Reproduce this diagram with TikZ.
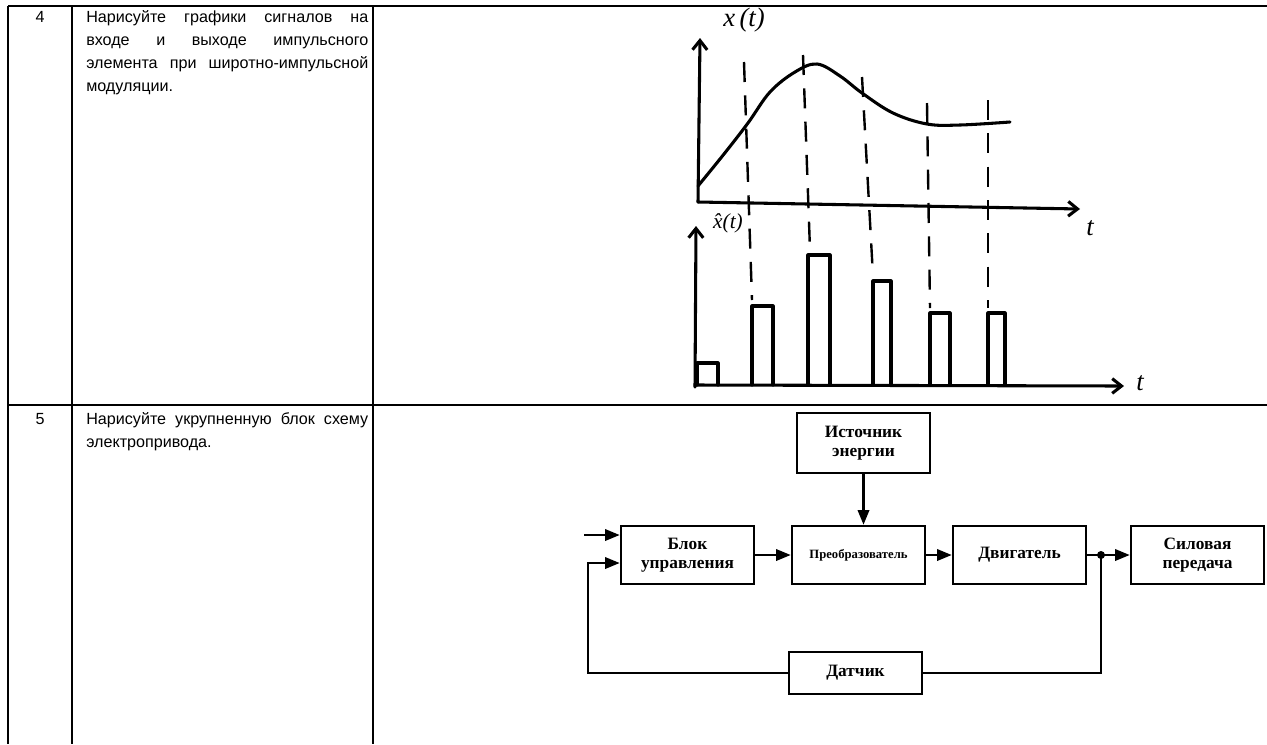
\documentclass[tikz,border=0pt]{standalone}
\usepackage{fontspec}
\setmainfont{Liberation Serif}
\newfontfamily\arialfont{Liberation Sans}
\usetikzlibrary{arrows.meta}
\hyphenpenalty=10000
\exhyphenpenalty=10000
\tolerance=9999

\begin{document}
\begin{tikzpicture}[x=0.75pt,y=-0.75pt]
\useasboundingbox (0,0) rectangle (1267,744);
\tikzstyle{grid}=[line width=1.5pt]
\tikzstyle{question}=[font=\arialfont\fontsize{12.1}{17.25}\selectfont, inner sep=0pt]
\tikzstyle{block}=[draw, line width=1.9pt, minimum width=99.75pt, minimum height=43.5pt, align=center, font=\bfseries\fontsize{13}{14.5}\selectfont, inner sep=2pt]
\tikzstyle{arr}=[line width=1.8pt, -{Triangle[length=11pt,width=8.5pt]}]
\tikzstyle{sketch}=[line width=2.3pt, line cap=round, line join=round]
\tikzstyle{guide}=[line width=1.8pt, dash pattern=on 15pt off 10pt]
\tikzstyle{barb}=[sketch, -{Straight Barb[length=7pt,width=11pt]}]
\tikzstyle{hand}=[font=\itshape\fontsize{20}{20}\selectfont, inner sep=1pt]
% table
\draw[grid] (8,6) -- (1267,6);
\draw[grid] (8,405) -- (1267,405);
\draw[grid] (8,6) -- (8,744);
\draw[grid] (72,6) -- (72,744);
\draw[grid] (373,6) -- (373,744);
\path (40,22) node[question, anchor=base] (n4) {4};
\path (86,22) node[question, anchor=base west, text width=211.5pt, align=justify] (q4)
  {Нарисуйте графики сигналов на\linebreak входе и выходе импульсного\linebreak элемента при широтно-импульсной\linebreak модуляции.};
\path (40,424) node[question, anchor=base] (n5) {5};
\path (86,424) node[question, anchor=base west, text width=211.5pt, align=justify] (q5)
  {Нарисуйте укрупненную блок схему\linebreak электропривода.};

% sketch: input signal
\draw[barb] (698,202) -- (700,38);
\draw[barb] (698,202) -- (1080,209);
\path (744,20) node[hand] (xlab) {x\,(t)};
\path (1090,228) node[hand] (tlab1) {t};
\draw[sketch] plot[smooth, tension=0.6] coordinates {(698,186) (724,154) (748,123) (770,92) (795,72) (817,64) (840,76) (862,93) (893,113) (927,124) (960,125) (1010,122)};
% sketch: output pulses
\draw[barb] (695,387) -- (696,226);
\draw[barb] (695,385) -- (1124,386);
\path (728,223) node[hand, font=\itshape\fontsize{16}{16}\selectfont] (xhlab) {x̂(t)};
\path (1140,383) node[hand] (tlab2) {t};
\draw[sketch] (697,385) -- (697,363) -- (718,363) -- (718,385);
\draw[sketch] (752,385) -- (752,306) -- (773,306) -- (773,385);
\draw[sketch] (808,385) -- (808,255) -- (830,255) -- (830,385);
\draw[sketch] (873,385) -- (873,281) -- (891,281) -- (891,385);
\draw[sketch] (930,385) -- (930,313) -- (950,313) -- (950,385);
\draw[sketch] (988,385) -- (988,313) -- (1005,313) -- (1005,385);
% sampling instants
\draw[guide] (744,62) -- (752,300);
\draw[guide] (803,55) -- (810,250);
\draw[guide] (862,77) -- (873,276);
\draw[guide] (927,103) -- (930,308);
\draw[guide] (988,100) -- (988,308);

% block diagram
\path (863.5,443) node[block, minimum height=45pt] (src) {Источник\\энергии};
\path (687.5,555) node[block] (ctrl) {Блок\\управления};
\path (858.5,555) node[block, font=\bfseries\fontsize{9.5}{11}\selectfont] (conv) {Преобразователь};
\path (1019.5,555) node[block] (motor) {Двигатель};
\path (1197.5,555) node[block] (trans) {Силовая\\передача};
\path (855.5,673) node[block, minimum height=31.5pt] (sens) {Датчик};
\coordinate (in) at (584,535);
\coordinate (j) at (1101,555);
\coordinate (fb) at (588,563);
\draw[arr] (in) -- (in -| ctrl.west);
\draw[arr] (ctrl) -- (conv);
\draw[arr] (conv) -- (motor);
\draw[arr] (motor) -- (trans);
\draw[arr] (src.south) -- (src.south |- conv.north);
\fill (j) circle (3pt);
\draw[line width=1.8pt] (j) |- (sens.east);
\draw[arr] (sens.west) -| (fb) -- (fb -| ctrl.west);
\end{tikzpicture}
\end{document}
